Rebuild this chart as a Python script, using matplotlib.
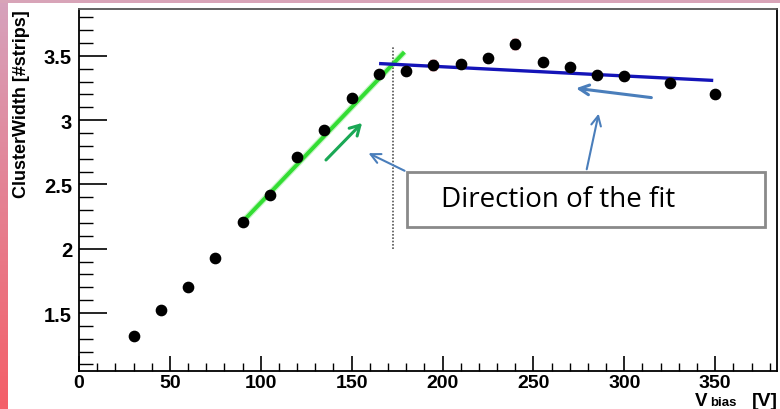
import numpy as np
import matplotlib
matplotlib.use("Agg")
import matplotlib.pyplot as plt
from matplotlib.ticker import MultipleLocator, FuncFormatter
from matplotlib.colors import LinearSegmentedColormap

# measured cluster width vs bias voltage
vbias = [30, 45, 60, 75, 90, 105, 120, 135, 150, 165, 180, 195, 210, 225, 240,
         255, 270, 285, 300, 325, 350]
width = [1.32, 1.52, 1.70, 1.93, 2.21, 2.42, 2.71, 2.92, 3.17, 3.36, 3.38, 3.43,
         3.44, 3.48, 3.59, 3.45, 3.41, 3.35, 3.34, 3.29, 3.20]
width_err = [0.02, 0.01, 0.01, 0.01, 0.01, 0.01, 0.01, 0.01, 0.01, 0.02, 0.03, 0.04,
             0.03, 0.03, 0.04, 0.03, 0.03, 0.03, 0.03, 0.03, 0.03]

# fit lines (start/end of each segment)
rise_x = [90, 179]
rise_y = [2.21, 3.53]
plateau_x = [166, 348]
plateau_y = [3.44, 3.31]
depletion_v = 172.5
depletion_span = [2.0, 3.57]

plt.rcParams["font.family"] = ["Liberation Sans", "DejaVu Sans"]
plt.rcParams["font.weight"] = "bold"

fig = plt.figure(figsize=(7.8, 4.1), dpi=100)

# pink slide border (left + top strip)
pink = LinearSegmentedColormap.from_list("pink", ["#d6a2bc", "#f45f68"])
bg = fig.add_axes([0, 0, 8 / 780, 1])
bg.imshow(np.linspace(0, 1, 100).reshape(-1, 1), aspect="auto", cmap=pink)
bg.axis("off")
top = fig.add_axes([0, 1 - 4 / 410, 1, 4 / 410])
top.set_facecolor("#d8a4b8")
top.set_xticks([])
top.set_yticks([])
for s in top.spines.values():
    s.set_visible(False)

ax = fig.add_axes([79 / 780, 38 / 410, 698 / 780, 362 / 410])
ax.set_xlim(0, 384)
ax.set_ylim(1.049, 3.865)

ax.errorbar(vbias, width, yerr=width_err, fmt="o", color="black", ms=7.4,
            ecolor="#c04050", elinewidth=1, capsize=2.5, zorder=3)

ax.plot(rise_x, rise_y, color="#c8f5c8", lw=4.5, solid_capstyle="butt", zorder=1)
ax.plot(rise_x, rise_y, color="#33dd33", lw=2.8, solid_capstyle="butt", zorder=2)
ax.plot(plateau_x, plateau_y, color="#1414b8", lw=2.4, zorder=2)
ax.plot([depletion_v, depletion_v], depletion_span, color="#555555", lw=1.2,
        ls=(0, (1, 1)), zorder=1)

# annotations
ax.annotate("", xy=(156.8, 2.994), xytext=(134.8, 2.675),
            arrowprops=dict(arrowstyle="->,head_length=0.7,head_width=0.4",
                            color="#1aa855", lw=2.2))
blue = "#4a7ebb"
ax.annotate("", xy=(157.9, 2.753), xytext=(180.5, 2.597),
            arrowprops=dict(arrowstyle="->,head_length=0.7,head_width=0.35",
                            color=blue, lw=1.5))
ax.annotate("", xy=(271.9, 3.251), xytext=(316.4, 3.173),
            arrowprops=dict(arrowstyle="->,head_length=0.7,head_width=0.35",
                            color=blue, lw=2.2))
ax.annotate("", xy=(286.2, 3.072), xytext=(279.0, 2.597),
            arrowprops=dict(arrowstyle="->,head_length=0.7,head_width=0.35",
                            color=blue, lw=1.5))
ax.add_patch(plt.Rectangle((180.5, 2.169), 197, 0.428, fill=True, facecolor="white",
                           edgecolor="#8a8a8a", lw=2, zorder=4))
ax.text(199, 2.39, "Direction of the fit", fontsize=20, family="Open Sans",
        fontweight="normal", va="center", ha="left", zorder=5)

# ROOT-like axes
ax.xaxis.set_major_locator(MultipleLocator(50))
ax.xaxis.set_minor_locator(MultipleLocator(10))
ax.yaxis.set_major_locator(MultipleLocator(0.5))
ax.yaxis.set_minor_locator(MultipleLocator(0.1))
ax.tick_params(axis="x", which="major", direction="in", length=11, width=1.2,
               top=False, pad=2, labelsize=14)
ax.tick_params(axis="x", which="minor", direction="in", length=6, width=1, top=False)
ax.tick_params(axis="y", which="major", direction="in", length=20, width=1.2,
               right=False, pad=5, labelsize=14.5)
ax.tick_params(axis="y", which="minor", direction="in", length=10, width=1, right=False)
ax.yaxis.set_major_formatter(FuncFormatter(lambda v, p: f"{v:g}"))
for s in ax.spines.values():
    s.set_linewidth(1.3)
ax.spines["top"].set_color("#555555")

fig.text(22 / 780, 1 - 104 / 410, "ClusterWidth [#strips]", rotation=90,
         fontsize=13, ha="center", va="center")

# x title: V with subscript "bias", then [V]
fig.text(695 / 780, 3.5 / 410, "V", fontsize=13.5, ha="left", va="baseline")
fig.text(710 / 780, 0.5 / 410, "bias", fontsize=9.5, ha="left", va="bottom")
fig.text(778 / 780, 3.5 / 410, "[V]", fontsize=14, ha="right", va="baseline")

fig.savefig("out.png", dpi=100)
